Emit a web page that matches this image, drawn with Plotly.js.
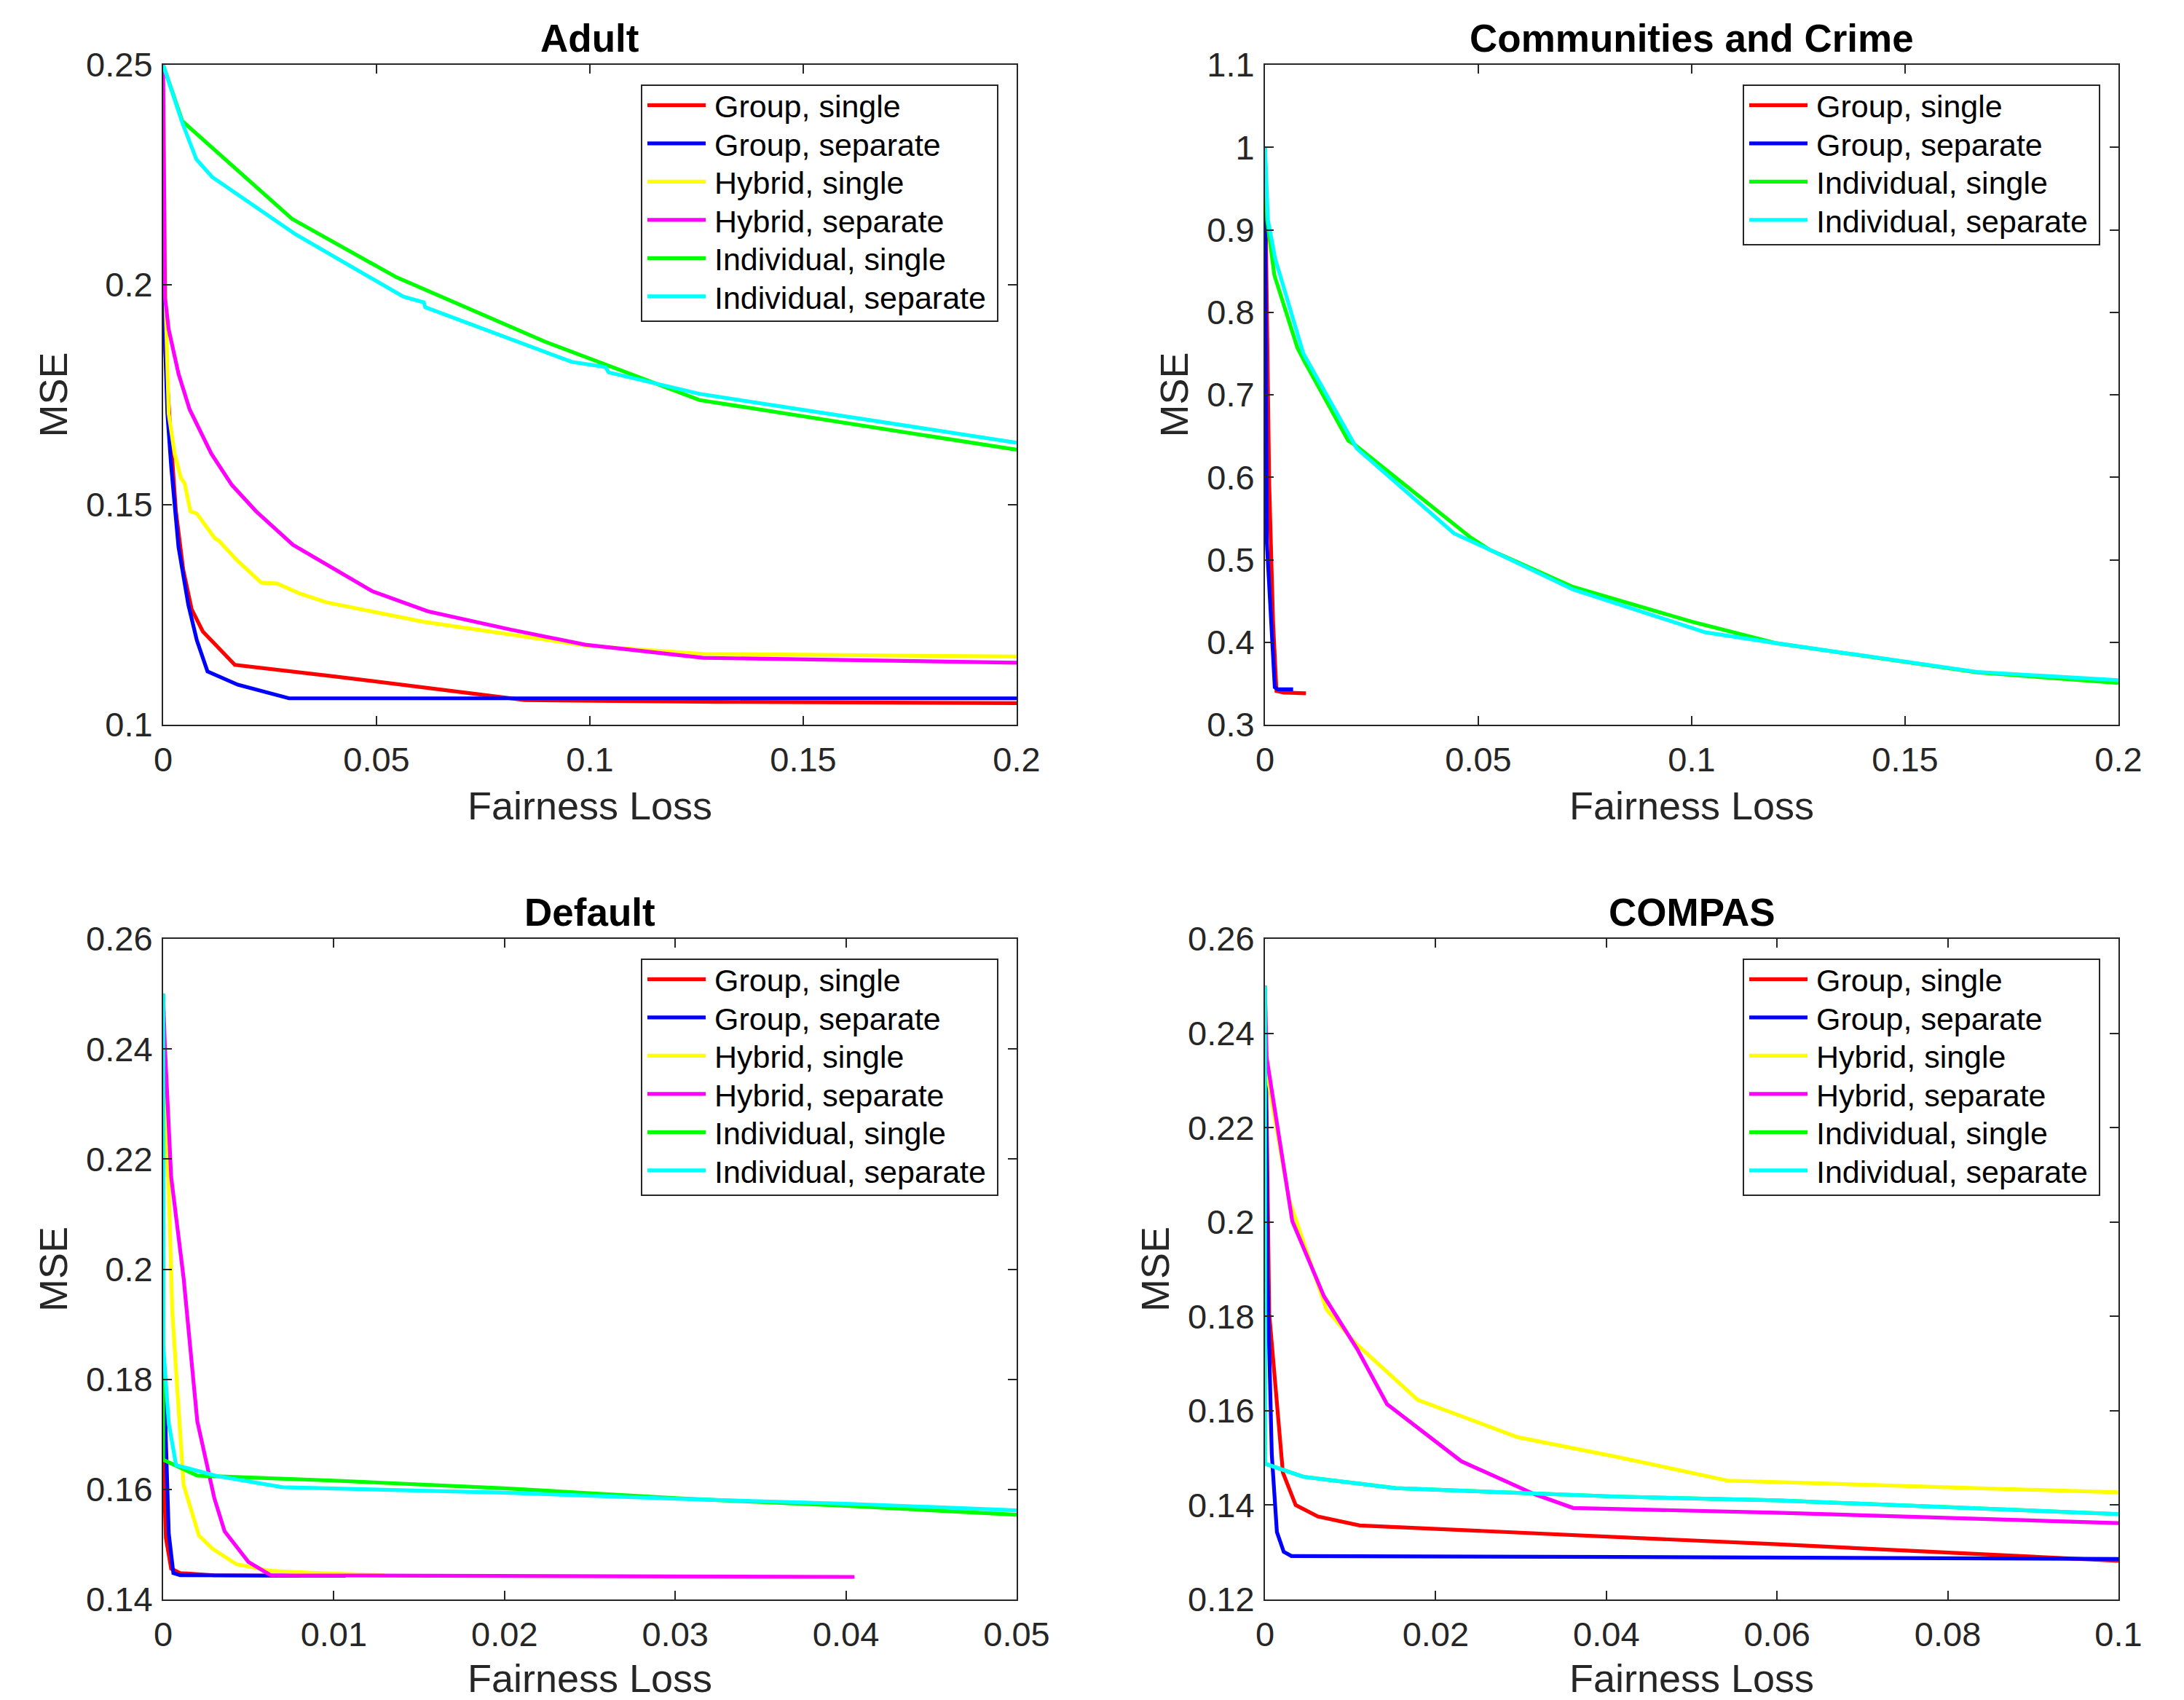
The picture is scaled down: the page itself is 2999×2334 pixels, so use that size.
<!DOCTYPE html>
<html>
<head>
<meta charset="utf-8">
<script src="https://cdn.plot.ly/plotly-3.0.1.min.js"></script>
<style>
html, body { margin: 0; padding: 0; background: #ffffff; }
#chart { width: 2999px; height: 2334px; }
</style>
</head>
<body>
<div id="chart"></div>
<script>
// ---------- series labels & colours ----------
const seriesNames = ['Group, single', 'Group, separate', 'Hybrid, single', 'Hybrid, separate', 'Individual, single', 'Individual, separate'];
const seriesColors = ['#FF0000', '#0000FF', '#FFFF00', '#FF00FF', '#00FF00', '#00FFFF'];
const panelTitles = ['Adult', 'Communities and Crime', 'Default', 'COMPAS'];
const xAxisLabel = 'Fairness Loss';
const yAxisLabel = 'MSE';

// ---------- Adult ----------
const adultGroupSingleX = [0, 0.0005, 0.0019, 0.003, 0.0047, 0.0067, 0.0093, 0.0168, 0.04, 0.064, 0.0847, 0.13, 0.2];
const adultGroupSingleY = [0.2, 0.185, 0.1636, 0.1485, 0.1353, 0.1262, 0.1212, 0.1136, 0.111, 0.1082, 0.1056, 0.1052, 0.1049];
const adultGroupSeparateX = [0, 0.0005, 0.001, 0.0019, 0.0036, 0.0059, 0.0079, 0.0104, 0.0175, 0.0295, 0.2];
const adultGroupSeparateY = [0.2, 0.1838, 0.1707, 0.1586, 0.1404, 0.1273, 0.1192, 0.1121, 0.1091, 0.106, 0.106];
const adultHybridSingleX = [0, 0.0006, 0.0013, 0.0027, 0.0042, 0.005, 0.0064, 0.0079, 0.0121, 0.013, 0.0173, 0.023, 0.0267, 0.0321, 0.0383, 0.061, 0.0989, 0.1265, 0.2];
const adultHybridSingleY = [0.25, 0.195, 0.1707, 0.1616, 0.156, 0.155, 0.1485, 0.148, 0.1424, 0.1419, 0.1374, 0.1323, 0.1321, 0.1298, 0.1278, 0.1234, 0.118, 0.1161, 0.1155];
const adultHybridSeparateX = [0, 0.00046, 0.0013, 0.0036, 0.0062, 0.0113, 0.0161, 0.0218, 0.0304, 0.0491, 0.062, 0.0815, 0.0989, 0.1265, 0.2];
const adultHybridSeparateY = [0.25, 0.197, 0.1899, 0.1798, 0.1717, 0.1616, 0.1545, 0.1485, 0.1409, 0.1303, 0.1258, 0.1216, 0.1182, 0.1152, 0.1141];
const adultIndivSingleX = [0, 0.0045, 0.0302, 0.0547, 0.0894, 0.1257, 0.2];
const adultIndivSingleY = [0.25, 0.2372, 0.215, 0.2017, 0.1871, 0.1738, 0.1625];
const adultIndivSeparateX = [0, 0.0045, 0.0078, 0.0115, 0.031, 0.0563, 0.0611, 0.0614, 0.0957, 0.1036, 0.1044, 0.1257, 0.2];
const adultIndivSeparateY = [0.25, 0.2368, 0.2285, 0.2245, 0.2115, 0.1973, 0.196, 0.1949, 0.1825, 0.1813, 0.1801, 0.1752, 0.1641];

// ---------- Communities and Crime ----------
const crimeGroupSingleX = [0, 0.001, 0.0019, 0.0027, 0.0044, 0.0096];
const crimeGroupSingleY = [0.975, 0.592, 0.4244, 0.341, 0.339, 0.338];
const crimeGroupSeparateX = [0, 0.00045, 0.0023, 0.003, 0.0066];
const crimeGroupSeparateY = [0.97, 0.52, 0.3455, 0.343, 0.343];
const crimeIndivSingleX = [0, 0.0005, 0.0022, 0.0076, 0.0093, 0.0195, 0.0209, 0.0482, 0.0526, 0.0722, 0.1, 0.1196, 0.1669, 0.2];
const crimeIndivSingleY = [1.0, 0.912, 0.845, 0.757, 0.74, 0.6445, 0.64, 0.527, 0.5123, 0.467, 0.425, 0.399, 0.3634, 0.3506];
const crimeIndivSeparateX = [0, 0.0007, 0.0024, 0.009, 0.0215, 0.0443, 0.0526, 0.0722, 0.1032, 0.1196, 0.1669, 0.2];
const crimeIndivSeparateY = [1.0, 0.912, 0.865, 0.75, 0.635, 0.532, 0.5123, 0.464, 0.412, 0.399, 0.364, 0.354];

// ---------- Default ----------
const defaultGroupSingleX = [0, 0.00016, 0.00047, 0.001, 0.003, 0.008];
const defaultGroupSingleY = [0.167, 0.1512, 0.1456, 0.1448, 0.1444, 0.1443];
const defaultGroupSeparateX = [0, 0.00033, 0.0006, 0.001, 0.0107];
const defaultGroupSeparateY = [0.185, 0.152, 0.1448, 0.1444, 0.1443];
const defaultHybridSingleX = [0, 0.00011, 0.00033, 0.00054, 0.0012, 0.0021, 0.0029, 0.0043, 0.0063, 0.0089, 0.013];
const defaultHybridSingleY = [0.25, 0.2304, 0.2144, 0.192, 0.1608, 0.1516, 0.1492, 0.1464, 0.1452, 0.1448, 0.1444];
const defaultHybridSeparateX = [0, 0.0001, 0.00047, 0.0012, 0.002, 0.003, 0.0036, 0.005, 0.0063, 0.0405];
const defaultHybridSeparateY = [0.25, 0.2408, 0.2168, 0.1984, 0.1724, 0.1584, 0.1524, 0.1468, 0.1444, 0.1441];
const defaultIndivSingleX = [0, 0, 0.002, 0.01, 0.02, 0.03, 0.04, 0.05];
const defaultIndivSingleY = [0.25, 0.1654, 0.1625, 0.1616, 0.1602, 0.1584, 0.157, 0.1554];
const defaultIndivSeparateX = [0, 0, 0.00033, 0.00076, 0.0032, 0.007, 0.02, 0.03, 0.04, 0.05];
const defaultIndivSeparateY = [0.25, 0.1864, 0.172, 0.1644, 0.1624, 0.1604, 0.1594, 0.1583, 0.1574, 0.1562];

// ---------- COMPAS ----------
const compasGroupSingleX = [0, 0.0005, 0.0021, 0.0036, 0.0062, 0.0111, 0.06, 0.08, 0.1];
const compasGroupSingleY = [0.25, 0.1806, 0.1469, 0.14, 0.1376, 0.1357, 0.1317, 0.13, 0.1282];
const compasGroupSeparateX = [0, 0.0003, 0.0008, 0.0014, 0.0022, 0.0031, 0.0413, 0.1];
const compasGroupSeparateY = [0.25, 0.188, 0.1507, 0.1343, 0.1301, 0.1292, 0.129, 0.1286];
const compasHybridSingleX = [0, 0.0002, 0.0028, 0.0072, 0.0105, 0.0179, 0.0296, 0.0413, 0.0542, 0.1];
const compasHybridSingleY = [0.25, 0.232, 0.2049, 0.1815, 0.1745, 0.1623, 0.1544, 0.1502, 0.1452, 0.1427];
const compasHybridSeparateX = [0, 0.0002, 0.0032, 0.0069, 0.0108, 0.0143, 0.023, 0.0316, 0.0361, 0.06, 0.1];
const compasHybridSeparateY = [0.25, 0.2348, 0.2002, 0.1843, 0.1731, 0.1614, 0.1493, 0.1423, 0.1394, 0.1384, 0.1362];
const compasIndivSingleX = [0, 0, 0.0045, 0.0153, 0.0413, 0.06, 0.1];
const compasIndivSingleY = [0.25, 0.1488, 0.146, 0.1436, 0.1418, 0.141, 0.1381];
const compasIndivSeparateX = [0, 0, 0.0045, 0.0153, 0.0413, 0.06, 0.1];
const compasIndivSeparateY = [0.25, 0.1488, 0.146, 0.1436, 0.1418, 0.141, 0.1381];

// ---------- tick values / labels ----------
const adultXTicks = [0, 0.05, 0.1, 0.15, 0.2];
const adultXTickText = ['0', '0.05', '0.1', '0.15', '0.2'];
const adultYTicks = [0.1, 0.15, 0.2, 0.25];
const adultYTickText = ['0.1', '0.15', '0.2', '0.25'];
const crimeXTicks = [0, 0.05, 0.1, 0.15, 0.2];
const crimeXTickText = ['0', '0.05', '0.1', '0.15', '0.2'];
const crimeYTicks = [0.3, 0.4, 0.5, 0.6, 0.7, 0.8, 0.9, 1.0, 1.1];
const crimeYTickText = ['0.3', '0.4', '0.5', '0.6', '0.7', '0.8', '0.9', '1', '1.1'];
const defaultXTicks = [0, 0.01, 0.02, 0.03, 0.04, 0.05];
const defaultXTickText = ['0', '0.01', '0.02', '0.03', '0.04', '0.05'];
const defaultYTicks = [0.14, 0.16, 0.18, 0.2, 0.22, 0.24, 0.26];
const defaultYTickText = ['0.14', '0.16', '0.18', '0.2', '0.22', '0.24', '0.26'];
const compasXTicks = [0, 0.02, 0.04, 0.06, 0.08, 0.1];
const compasXTickText = ['0', '0.02', '0.04', '0.06', '0.08', '0.1'];
const compasYTicks = [0.12, 0.14, 0.16, 0.18, 0.2, 0.22, 0.24, 0.26];
const compasYTickText = ['0.12', '0.14', '0.16', '0.18', '0.2', '0.22', '0.24', '0.26'];

// ---------- build traces ----------
const FONT = 'Liberation Sans, Arial, Helvetica, sans-serif';
const LINE_W = 5.2;

function mk(x, y, idx, ax, legendId) {
  return {
    type: 'scatter', mode: 'lines', x: x, y: y,
    name: seriesNames[idx],
    line: { color: seriesColors[idx], width: LINE_W },
    xaxis: 'x' + ax, yaxis: 'y' + ax,
    legend: legendId,
    hoverinfo: 'skip'
  };
}

const traces = [
  mk(adultGroupSingleX, adultGroupSingleY, 0, '', 'legend'),
  mk(adultGroupSeparateX, adultGroupSeparateY, 1, '', 'legend'),
  mk(adultHybridSingleX, adultHybridSingleY, 2, '', 'legend'),
  mk(adultHybridSeparateX, adultHybridSeparateY, 3, '', 'legend'),
  mk(adultIndivSingleX, adultIndivSingleY, 4, '', 'legend'),
  mk(adultIndivSeparateX, adultIndivSeparateY, 5, '', 'legend'),

  mk(crimeGroupSingleX, crimeGroupSingleY, 0, '2', 'legend2'),
  mk(crimeGroupSeparateX, crimeGroupSeparateY, 1, '2', 'legend2'),
  mk(crimeIndivSingleX, crimeIndivSingleY, 4, '2', 'legend2'),
  mk(crimeIndivSeparateX, crimeIndivSeparateY, 5, '2', 'legend2'),

  mk(defaultGroupSingleX, defaultGroupSingleY, 0, '3', 'legend3'),
  mk(defaultGroupSeparateX, defaultGroupSeparateY, 1, '3', 'legend3'),
  mk(defaultHybridSingleX, defaultHybridSingleY, 2, '3', 'legend3'),
  mk(defaultHybridSeparateX, defaultHybridSeparateY, 3, '3', 'legend3'),
  mk(defaultIndivSingleX, defaultIndivSingleY, 4, '3', 'legend3'),
  mk(defaultIndivSeparateX, defaultIndivSeparateY, 5, '3', 'legend3'),

  mk(compasGroupSingleX, compasGroupSingleY, 0, '4', 'legend4'),
  mk(compasGroupSeparateX, compasGroupSeparateY, 1, '4', 'legend4'),
  mk(compasHybridSingleX, compasHybridSingleY, 2, '4', 'legend4'),
  mk(compasHybridSeparateX, compasHybridSeparateY, 3, '4', 'legend4'),
  mk(compasIndivSingleX, compasIndivSingleY, 4, '4', 'legend4'),
  mk(compasIndivSeparateX, compasIndivSeparateY, 5, '4', 'legend4')
];

// ---------- layout ----------
const W = 2999, H = 2334;
const colLeft = [224 / W, 1396 / W];
const colRight = [1737 / W, 2909 / W];
const rowTop = [1 - 995 / H, 1 - 89 / H];
const rowBottom = [1 - 2196 / H, 1 - 1289 / H];

function axisBase(extra) {
  return Object.assign({
    showline: true, linecolor: '#262626', linewidth: 2,
    mirror: 'ticks', ticks: 'inside', ticklen: 12, tickwidth: 2, tickcolor: '#262626',
    showgrid: false, zeroline: false, automargin: false, fixedrange: true,
    tickmode: 'array',
    tickfont: { family: FONT, size: 47, color: '#262626' }
  }, extra);
}
function xAx(domain, anchor, range, vals, text) {
  return axisBase({
    domain: domain, anchor: anchor, range: range, tickvals: vals, ticktext: text,
    ticklabelstandoff: 6,
    title: { text: xAxisLabel, font: { family: FONT, size: 54, color: '#262626' }, standoff: 19 }
  });
}
function yAx(domain, anchor, range, vals, text) {
  return axisBase({
    domain: domain, anchor: anchor, range: range, tickvals: vals, ticktext: text,
    ticklabelstandoff: 3,
    title: { text: yAxisLabel, font: { family: FONT, size: 54, color: '#262626' }, standoff: 8 }
  });
}
function legendAt(xRight, yTop) {
  return {
    x: xRight, xanchor: 'right', y: yTop, yanchor: 'top',
    xref: 'paper', yref: 'paper',
    bgcolor: '#ffffff', bordercolor: '#262626', borderwidth: 2,
    font: { family: FONT, size: 43, color: '#000000' },
    itemwidth: 89, tracegroupgap: 0, traceorder: 'normal'
  };
}
function titleAnn(text, domX, domY) {
  return {
    text: '<b>' + text + '</b>', xref: 'paper', yref: 'paper',
    x: (domX[0] + domX[1]) / 2, y: domY[1], xanchor: 'center', yanchor: 'middle',
    yshift: 37, showarrow: false,
    font: { family: FONT, size: 53, color: '#000000' }
  };
}

const layout = {
  width: W, height: H,
  margin: { l: 0, r: 0, t: 0, b: 0 },
  paper_bgcolor: '#ffffff', plot_bgcolor: '#ffffff',
  showlegend: true,
  xaxis: xAx(colLeft, 'y', [0, 0.2], adultXTicks, adultXTickText),
  yaxis: yAx(rowTop, 'x', [0.1, 0.25], adultYTicks, adultYTickText),
  xaxis2: xAx(colRight, 'y2', [0, 0.2], crimeXTicks, crimeXTickText),
  yaxis2: yAx(rowTop, 'x2', [0.3, 1.1], crimeYTicks, crimeYTickText),
  xaxis3: xAx(colLeft, 'y3', [0, 0.05], defaultXTicks, defaultXTickText),
  yaxis3: yAx(rowBottom, 'x3', [0.14, 0.26], defaultYTicks, defaultYTickText),
  xaxis4: xAx(colRight, 'y4', [0, 0.1], compasXTicks, compasXTickText),
  yaxis4: yAx(rowBottom, 'x4', [0.12, 0.26], compasYTicks, compasYTickText),
  legend: legendAt(1361 / W, 1 - 116 / H),
  legend2: legendAt(2874 / W, 1 - 116 / H),
  legend3: legendAt(1361 / W, 1 - 1316 / H),
  legend4: legendAt(2874 / W, 1 - 1316 / H),
  annotations: [
    titleAnn(panelTitles[0], colLeft, rowTop),
    titleAnn(panelTitles[1], colRight, rowTop),
    titleAnn(panelTitles[2], colLeft, rowBottom),
    titleAnn(panelTitles[3], colRight, rowBottom)
  ]
};

const ROW_PITCH = 52.5;   // legend row spacing of the reference
const FIRST_SHIFT = -8;   // first legend row sits a bit higher
const EXTRA_RIGHT = 10;   // extra right padding inside legend box

Plotly.newPlot('chart', traces, layout, { staticPlot: true, displayModeBar: false }).then(function (gd) {
  // lengthen legend line samples to match the reference style
  gd.querySelectorAll('.legendlines path').forEach(function (p) {
    p.setAttribute('d', 'M7,0h80');
  });
  ['legend', 'legend2', 'legend3', 'legend4'].forEach(function (id) {
    const g = gd.querySelector('g.' + id);
    if (!g) return;
    const items = Array.prototype.slice.call(g.querySelectorAll('g.traces'));
    if (!items.length) return;
    const re = /translate\(\s*([-\d.eE]+)[ ,]+([-\d.eE]+)\s*\)/;
    let firstY = null, lastOld = null, lastNew = null;
    items.forEach(function (it, i) {
      const t = it.getAttribute('transform') || '';
      const m = re.exec(t);
      if (!m) return;
      const x = parseFloat(m[1]), y = parseFloat(m[2]);
      if (firstY === null) firstY = y;
      const ny = firstY + FIRST_SHIFT + i * ROW_PITCH;
      it.setAttribute('transform', 'translate(' + x + ',' + ny + ')');
      lastOld = y; lastNew = ny;
    });
    const bg = g.querySelector('rect.bg');
    if (bg && lastOld !== null) {
      const h = parseFloat(bg.getAttribute('height'));
      bg.setAttribute('height', h + (lastNew - lastOld) - 2);
      const w = parseFloat(bg.getAttribute('width'));
      bg.setAttribute('width', w + EXTRA_RIGHT);
    }
  });
});
</script>
</body>
</html>
